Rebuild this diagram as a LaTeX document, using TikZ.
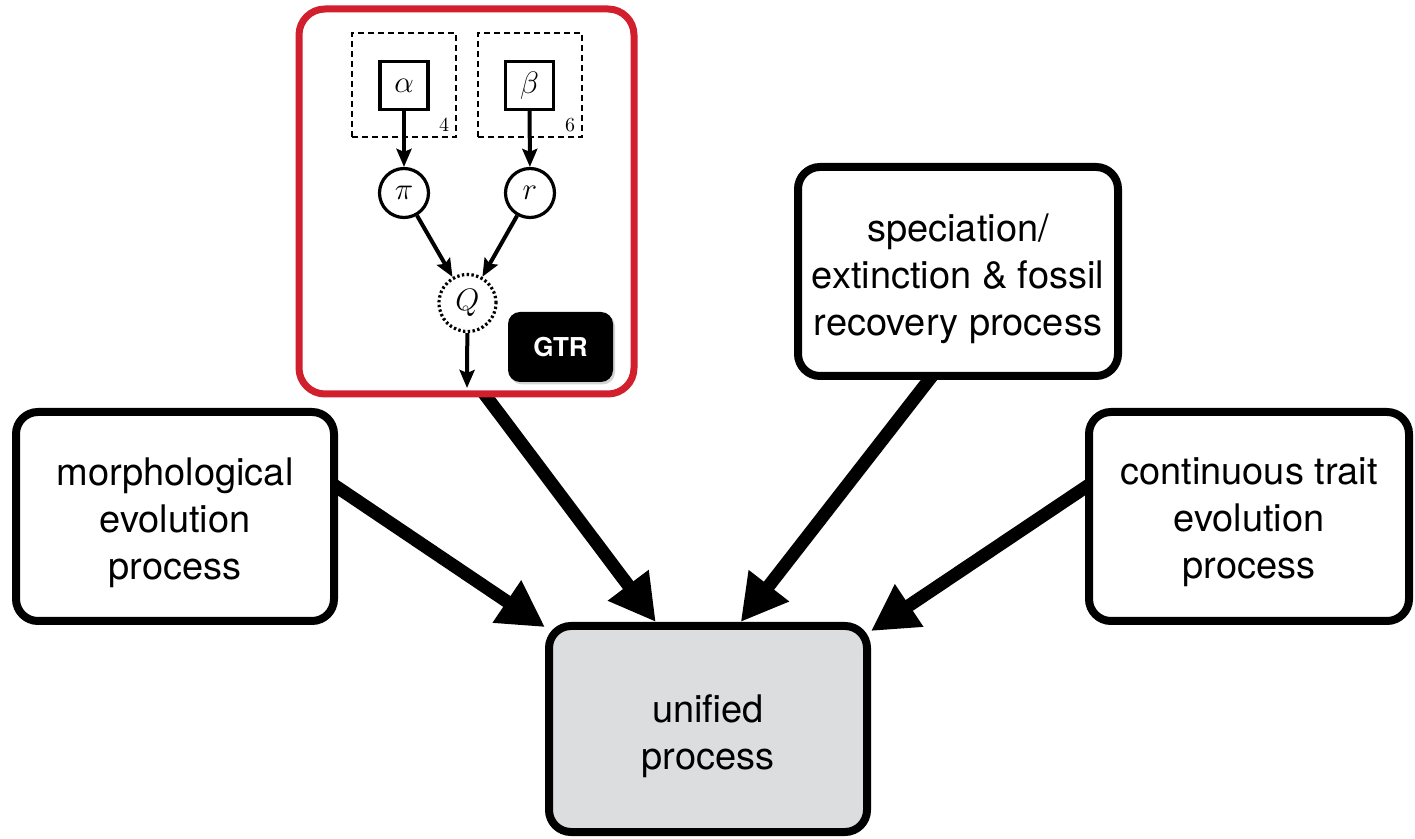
\RequirePackage{fix-cm}
\documentclass[tikz,border=0pt]{standalone}
\usepackage{fontspec}
\newfontfamily\hv{TeX Gyre Heros}
\usetikzlibrary{arrows.meta,shadows}
\definecolor{gtrred}{HTML}{D21F2D}
\definecolor{unigray}{HTML}{DCDDDF}
\pgfdeclarelayer{back}
\pgfsetlayers{back,main}

\tikzset{
  procbox/.style={draw=black, line width=4pt, rounded corners=11pt, fill=white, inner sep=0pt},
  proctext/.style={align=center, inner sep=0pt, font=\hv\fontsize{19}{23.5}\selectfont},
  bigarrow/.style={line width=6.5pt, -{Triangle[length=23pt,width=24pt]}, shorten <=-5pt},
  parambox/.style={draw, line width=1.6pt, minimum size=24pt, inner sep=0pt,
    font=\fontsize{15.5}{18}\selectfont},
  varnode/.style={draw, circle, line width=1.6pt, minimum size=24.5pt, inner sep=0pt,
    font=\fontsize{15.5}{18}\selectfont},
  platebox/.style={draw, dash pattern=on 3pt off 2pt, line width=0.7pt, minimum size=52pt, inner sep=0pt},
  platelabel/.style={font=\fontsize{10}{12}\selectfont, inner sep=0pt},
  smallarrow/.style={line width=2pt, -{Stealth[length=9pt,width=7.5pt,inset=1.5pt]}},
}

\begin{document}
\begin{tikzpicture}[x=0.5pt,y=-0.5pt]
\useasboundingbox (0,0) rectangle (1415,839);

% source processes
\node[procbox, minimum width=159pt, minimum height=104.5pt] (morph) at (175,516.5) {};
\node[proctext] (morphtext) at ([yshift=-3pt]morph.center) {morphological\\evolution\\process};
\node[procbox, minimum width=160pt, minimum height=104.5pt] (spec) at (958,271.5) {};
\node[proctext] (spectext) at ([yshift=-3.5pt]spec.center) {speciation/\\extinction \& fossil\\recovery process};
\node[procbox, minimum width=160pt, minimum height=104.5pt] (cont) at (1249,516.5) {};
\node[proctext] (conttext) at ([yshift=-3pt]cont.center) {continuous trait\\evolution\\process};
\node[draw=gtrred, line width=3.5pt, rounded corners=13pt, fill=white,
  minimum width=167.5pt, minimum height=192.5pt, inner sep=0pt] (gtr) at (466.5,201.5) {};

% GTR substitution model as a graphical model
\node[platebox] (pa) at (404,85) {};
\node[platebox] (pb) at (530,85) {};
\node[parambox] (al) at (404,85.5) {$\alpha$};
\node[parambox] (be) at (529.5,85.5) {$\beta$};
\node[platelabel] (na) at (444,125) {4};
\node[platelabel] (nb) at (570,125) {6};
\node[varnode] (pi) at (404,193) {$\pi$};
\node[varnode] (rr) at (530,193) {$r$};
\node[draw, circle, line width=1.6pt, dash pattern=on 1.2pt off 1.2pt, minimum size=28.5pt,
  inner sep=0pt, font=\fontsize{15.5}{18}\selectfont] (Q) at (467.5,303) {$Q$};
\coordinate (qout) at (467,388);
\draw[smallarrow] (al) -- (pi);
\draw[smallarrow] (be) -- (rr);
\draw[smallarrow] (pi) -- (Q);
\draw[smallarrow] (rr) -- (Q);
\draw[smallarrow] (Q) -- (qout);
\node[fill=black, rounded corners=6pt, minimum width=52.5pt, minimum height=35pt, inner sep=0pt,
  text=white, font=\hv\bfseries\fontsize{13}{15}\selectfont,
  drop shadow={opacity=0.35, shadow xshift=1pt, shadow yshift=-1.2pt}] (tag) at (560.5,347) {GTR};

% combined model and the arrows into it
\begin{pgfonlayer}{back}
\node[procbox, fill=unigray, minimum width=159pt, minimum height=103pt] (uni) at (708,729) {};
\node[proctext] (unitext) at ([yshift=-3.5pt]uni.center) {unified\\process};
\draw[bigarrow] (morph.10) -- (uni.148);
\draw[bigarrow] (gtr.-84) -- (uni.116);
\draw[bigarrow] (spec.-105) -- (uni.73);
\draw[bigarrow] (cont.170) -- (uni.31.5);
\end{pgfonlayer}
\end{tikzpicture}
\end{document}
